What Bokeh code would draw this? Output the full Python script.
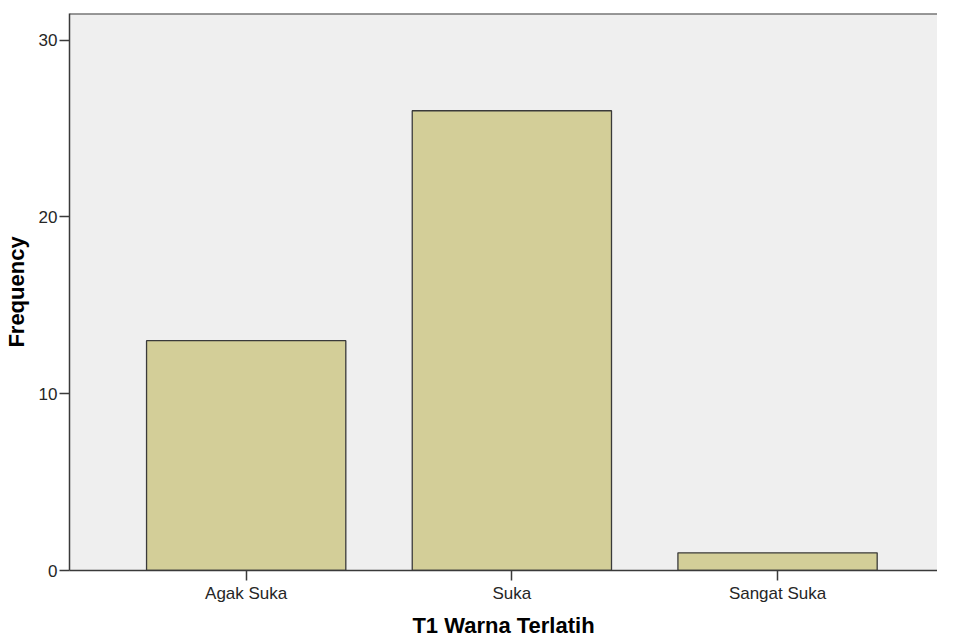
from bokeh.plotting import figure
from bokeh.models import Range1d, FixedTicker, Span, ColumnDataSource
from bokeh.embed import file_html
from bokeh.resources import INLINE

categories = ["Agak Suka", "Suka", "Sangat Suka"]
frequency = [13, 26, 1]
y_ticks = [0, 10, 20, 30]

x_pos = [i + 0.5 for i in range(len(categories))]
source = ColumnDataSource(data=dict(x=x_pos, top=frequency, cat=categories))

FONT = "Liberation Sans"
AX = "#3a3a3a"

p = figure(width=937, height=640, output_backend="svg", toolbar_location=None,
           x_range=Range1d(-0.165, 3.102), y_range=Range1d(0, 31.5),
           min_border_left=63, min_border_top=13, min_border_bottom=70, min_border_right=0)

p.background_fill_color = "#efefef"
p.border_fill_color = "white"
p.outline_line_color = None
p.xgrid.visible = False
p.ygrid.visible = False

p.vbar(x="x", top="top", width=0.75, bottom=0, source=source,
       fill_color="#d3ce98", line_color="#3a3a3a", line_width=1.3)

# top border of the frame
p.add_layout(Span(location=31.5, dimension="width", line_color=AX, line_width=2))

# x axis
p.xaxis.ticker = FixedTicker(ticks=x_pos)
p.xaxis.major_label_overrides = {x: c for x, c in zip(x_pos, categories)}
p.xaxis.minor_tick_line_color = None
p.xaxis.major_tick_in = 0
p.xaxis.major_tick_out = 10
p.xaxis.major_label_standoff = 3
p.xaxis.major_label_text_font = FONT
p.xaxis.major_label_text_font_size = "17px"
p.xaxis.major_label_text_color = "#262626"
p.xaxis.axis_line_color = AX
p.xaxis.axis_line_width = 1.5
p.xaxis.major_tick_line_color = AX
p.xaxis.major_tick_line_width = 1.5
p.xaxis.axis_label = "T1 Warna Terlatih"
p.xaxis.axis_label_text_font = FONT
p.xaxis.axis_label_text_font_size = "22px"
p.xaxis.axis_label_text_font_style = "bold"
p.xaxis.axis_label_text_color = "black"
p.xaxis.axis_label_standoff = 7

# y axis
p.yaxis.ticker = FixedTicker(ticks=y_ticks)
p.yaxis.minor_tick_line_color = None
p.yaxis.major_tick_in = 0
p.yaxis.major_tick_out = 10
p.yaxis.major_label_standoff = 2
p.yaxis.major_label_text_font = FONT
p.yaxis.major_label_text_font_size = "17px"
p.yaxis.major_label_text_color = "#262626"
p.yaxis.axis_line_color = AX
p.yaxis.axis_line_width = 1.5
p.yaxis.major_tick_line_color = AX
p.yaxis.major_tick_line_width = 1.5
p.yaxis.axis_label = "Frequency"
p.yaxis.axis_label_text_font = FONT
p.yaxis.axis_label_text_font_size = "22px"
p.yaxis.axis_label_text_font_style = "bold"
p.yaxis.axis_label_text_color = "black"
p.yaxis.axis_label_standoff = 7

open("out.html", "w").write(file_html(p, INLINE))
